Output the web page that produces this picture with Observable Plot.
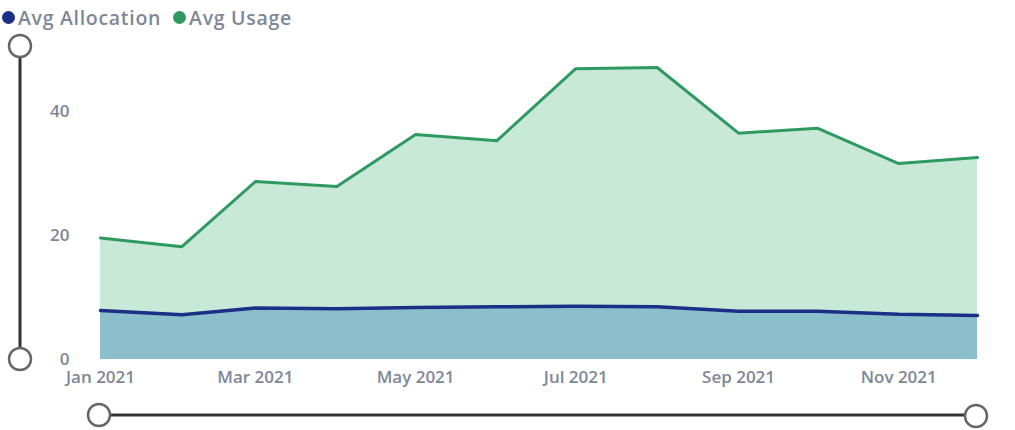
<!DOCTYPE html>
<html>
<head>
<meta charset="utf-8">
<script src="https://cdn.jsdelivr.net/npm/d3@7"></script>
<script src="https://cdn.jsdelivr.net/npm/@observablehq/plot@0.6"></script>
<style>
  html, body { margin: 0; padding: 0; background: #fff; }
  #wrap { position: relative; width: 1015px; height: 430px; overflow: hidden; font-family: "Open Sans", sans-serif; }
  #legend { position: absolute; left: 0; top: 2px; height: 30px; display: flex; align-items: center; font-size: 19.5px; font-weight: 600; color: #7d8797; letter-spacing: 0.7px; }
  #legend .item { display: flex; align-items: center; margin-right: 10px; }
  #legend .sw { width: 13px; height: 13px; border-radius: 50%; margin: 0 3px 0 2px; }
  #chart { position: absolute; left: 0; top: 30px; }
  #sliders { position: absolute; left: 0; top: 0; pointer-events: none; }
</style>
</head>
<body>
<div id="wrap">
  <div id="legend"></div>
  <div id="chart"></div>
  <svg id="sliders" width="1015" height="430"></svg>
</div>
<script>
const months = ["2021-01","2021-02","2021-03","2021-04","2021-05","2021-06","2021-07","2021-08","2021-09","2021-10","2021-11","2021-12"];
const avgUsage = [19.6, 18.2, 28.7, 27.9, 36.3, 35.3, 46.9, 47.1, 36.5, 37.3, 31.6, 32.6];
const avgAllocation = [7.9, 7.2, 8.3, 8.2, 8.4, 8.5, 8.6, 8.5, 7.8, 7.8, 7.3, 7.1];
const seriesNames = ["Avg Allocation", "Avg Usage"];
const seriesColors = ["#1b2f86", "#2f9a60"];
const yTicks = [0, 20, 40];

const parse = d3.utcParse("%Y-%m");
const data = months.map((m, i) => ({date: parse(m), usage: avgUsage[i], alloc: avgAllocation[i]}));

// legend
const legend = document.getElementById("legend");
seriesNames.forEach((n, i) => {
  const it = document.createElement("div");
  it.className = "item";
  it.innerHTML = `<span class="sw" style="background:${seriesColors[i]}"></span><span>${n}</span>`;
  legend.appendChild(it);
});

const chart = Plot.plot({
  width: 1015,
  height: 400,
  marginTop: 19,
  marginBottom: 71,
  marginLeft: 100,
  marginRight: 38,
  style: {fontFamily: "Open Sans, sans-serif", fontSize: "17px", fontWeight: 600, color: "#7d8797", background: "transparent"},
  x: {type: "utc", domain: [data[0].date, data[data.length - 1].date], ticks: d3.utcMonth.every(2), tickFormat: d3.utcFormat("%b %Y"), tickSize: 0, tickPadding: 11, label: null},
  y: {domain: [0, 50], ticks: yTicks, tickSize: 0, tickPadding: 31, label: null},
  marks: [
    Plot.areaY(data, {x: "date", y: "usage", fill: "#c8e9d7"}),
    Plot.areaY(data, {x: "date", y: "alloc", fill: "#8cbfcc"}),
    Plot.lineY(data, {x: "date", y: "usage", stroke: seriesColors[1], strokeWidth: 3}),
    Plot.lineY(data, {x: "date", y: "alloc", stroke: seriesColors[0], strokeWidth: 3.5})
  ]
});
document.getElementById("chart").appendChild(chart);

// slider decorations
const s = d3.select("#sliders");
const lineCol = "#333", ringCol = "#666";
s.append("line").attr("x1", 20).attr("x2", 20).attr("y1", 46).attr("y2", 359).attr("stroke", lineCol).attr("stroke-width", 3);
s.append("line").attr("x1", 99).attr("x2", 976).attr("y1", 415).attr("y2", 415).attr("stroke", lineCol).attr("stroke-width", 3);
[[20, 46], [20, 359], [99, 415], [976, 416]].forEach(([cx, cy]) => {
  s.append("circle").attr("cx", cx).attr("cy", cy).attr("r", 11).attr("fill", "#fff").attr("stroke", ringCol).attr("stroke-width", 2.5);
});
</script>
</body>
</html>
